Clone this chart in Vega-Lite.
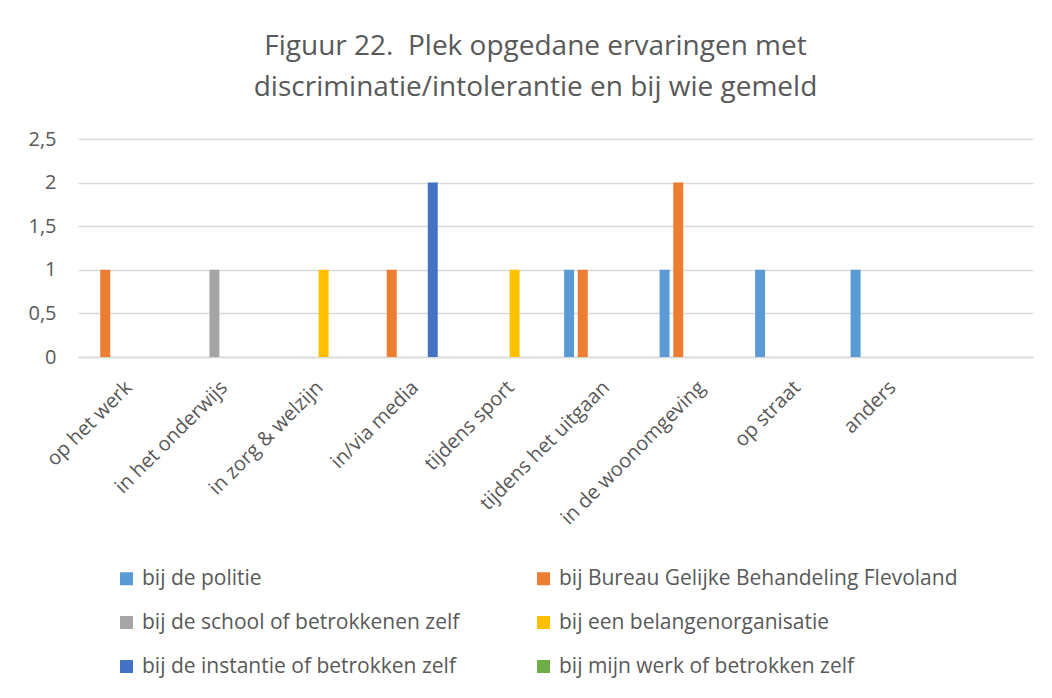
{
  "$schema": "https://vega.github.io/schema/vega-lite/v6.json",
  "autosize": "none",
  "width": 955,
  "height": 218,
  "padding": {"left": 78, "top": 139, "right": 19, "bottom": 341},
  "background": "white",
  "title": {
    "text": ["Figuur 22.\u00a0 Plek opgedane ervaringen met", "discriminatie/intolerantie en bij wie gemeld"],
    "font": "Open Sans",
    "fontSize": 28,
    "fontWeight": "normal",
    "color": "#595959",
    "lineHeight": 41,
    "anchor": "middle",
    "dx": -20,
    "offset": 27
  },
  "data": {
    "values": [
      {"plek": "op het werk", "gemeld": "bij Bureau Gelijke Behandeling Flevoland", "aantal": 1},
      {"plek": "in het onderwijs", "gemeld": "bij de school of betrokkenen zelf", "aantal": 1},
      {"plek": "in zorg & welzijn", "gemeld": "bij een belangenorganisatie", "aantal": 1},
      {"plek": "in/via media", "gemeld": "bij Bureau Gelijke Behandeling Flevoland", "aantal": 1},
      {"plek": "in/via media", "gemeld": "bij de instantie of betrokken zelf", "aantal": 2},
      {"plek": "tijdens sport", "gemeld": "bij een belangenorganisatie", "aantal": 1},
      {"plek": "tijdens het uitgaan", "gemeld": "bij de politie", "aantal": 1},
      {"plek": "tijdens het uitgaan", "gemeld": "bij Bureau Gelijke Behandeling Flevoland", "aantal": 1},
      {"plek": "in de woonomgeving", "gemeld": "bij de politie", "aantal": 1},
      {"plek": "in de woonomgeving", "gemeld": "bij Bureau Gelijke Behandeling Flevoland", "aantal": 2},
      {"plek": "op straat", "gemeld": "bij de politie", "aantal": 1},
      {"plek": "anders", "gemeld": "bij de politie", "aantal": 1}
    ]
  },
  "mark": {"type": "bar"},
  "encoding": {
    "x": {
      "field": "plek",
      "type": "nominal",
      "sort": null,
      "scale": {
        "domain": ["op het werk", "in het onderwijs", "in zorg & welzijn", "in/via media", "tijdens sport", "tijdens het uitgaan", "in de woonomgeving", "op straat", "anders", " "],
        "paddingInner": 0.18,
        "paddingOuter": 0.09
      },
      "axis": {
        "title": null,
        "labelAngle": -45,
        "labelFont": "Open Sans",
        "labelFontSize": 20,
        "labelColor": "#595959",
        "labelPadding": 20,
        "labelOffset": -4,
        "ticks": false,
        "domainColor": "#d9d9d9",
        "domainWidth": 1.5,
        "labelLimit": 400
      }
    },
    "xOffset": {
      "field": "gemeld",
      "type": "nominal",
      "scale": {
        "domain": ["bij de politie", "bij Bureau Gelijke Behandeling Flevoland", "bij de school of betrokkenen zelf", "bij een belangenorganisatie", "bij de instantie of betrokken zelf", "bij mijn werk of betrokken zelf"],
        "paddingInner": 0.27,
        "paddingOuter": 0
      }
    },
    "y": {
      "field": "aantal",
      "type": "quantitative",
      "scale": {"domain": [0, 2.5], "nice": false},
      "axis": {
        "title": null,
        "values": [0, 0.5, 1, 1.5, 2, 2.5],
        "labelExpr": "replace(format(datum.value, '~g'), '.', ',')",
        "labelFont": "Open Sans",
        "labelFontSize": 20,
        "labelColor": "#595959",
        "labelPadding": 22,
        "ticks": false,
        "domain": false,
        "gridColor": "#d9d9d9",
        "gridWidth": 1.5
      }
    },
    "color": {
      "field": "gemeld",
      "type": "nominal",
      "scale": {
        "domain": ["bij de politie", "bij Bureau Gelijke Behandeling Flevoland", "bij de school of betrokkenen zelf", "bij een belangenorganisatie", "bij de instantie of betrokken zelf", "bij mijn werk of betrokken zelf"],
        "range": ["#5B9BD5", "#ED7D31", "#A5A5A5", "#FFC000", "#4472C4", "#70AD47"]
      },
      "legend": {
        "title": null,
        "orient": "none",
        "direction": "horizontal",
        "legendX": 38,
        "legendY": 429,
        "columns": 2,
        "columnPadding": 73,
        "rowPadding": 22,
        "symbolType": "square",
        "symbolSize": 169,
        "symbolStrokeWidth": 0,
        "labelFont": "Open Sans",
        "labelFontSize": 21,
        "labelColor": "#595959",
        "labelLimit": 500,
        "labelOffset": 5
      }
    }
  },
  "config": {
    "view": {"stroke": null}
  }
}
